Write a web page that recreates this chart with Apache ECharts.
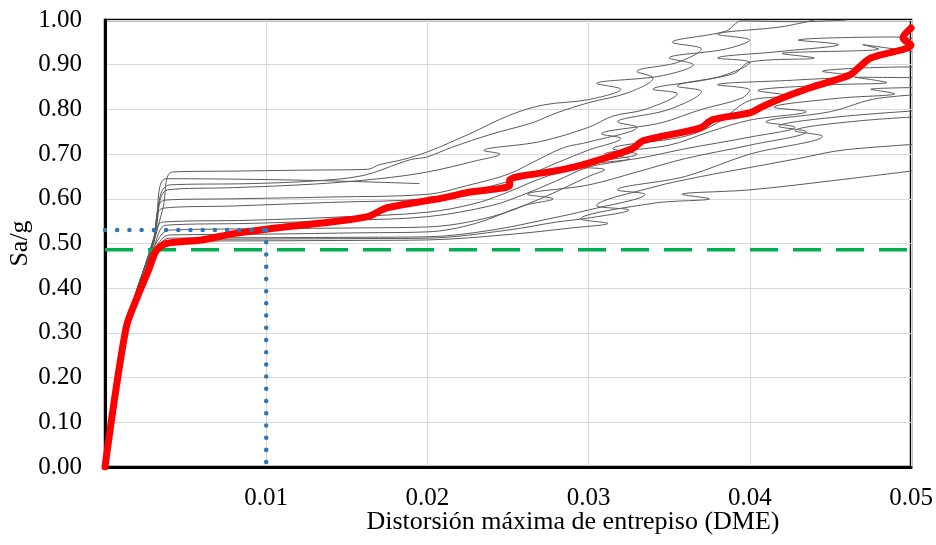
<!DOCTYPE html>
<html>
<head>
<meta charset="utf-8">
<script src="https://cdn.jsdelivr.net/npm/echarts@6/dist/echarts.min.js"></script>
<style>
  html, body { margin: 0; padding: 0; background: #fff; }
  #chart { width: 936px; height: 545px; }
</style>
</head>
<body>
<div id="chart"></div>
<script>
// Axis ticks
const xTicks = [0.01, 0.02, 0.03, 0.04, 0.05];
const yTicks = [0.0, 0.1, 0.2, 0.3, 0.4, 0.5, 0.6, 0.7, 0.8, 0.9, 1.0];

// Incremental dynamic analysis curves: [drift, Sa/g]
const ida1 = [[0,0],[0.0011,0.27],[0.0017,0.36],[0.0024,0.44],[0.0030,0.50],[0.0036,0.58],[0.0042,0.66],[0.0080,0.662],[0.0120,0.664],[0.0163,0.666],[0.0170,0.676],[0.0185,0.688],[0.0200,0.705],[0.0226,0.745],[0.0251,0.787],[0.0272,0.810],[0.0300,0.822],[0.0320,0.845],[0.0305,0.858],[0.0345,0.875],[0.0365,0.900],[0.0350,0.915],[0.0385,0.935],[0.0400,0.955],[0.0380,0.968],[0.0420,0.985],[0.0440,1.0]];
const ida2 = [[0,0],[0.0011,0.27],[0.0017,0.36],[0.0024,0.44],[0.0031,0.52],[0.0038,0.645],[0.0080,0.644],[0.0130,0.641],[0.0170,0.637],[0.0195,0.634]];
const ida3 = [[0,0],[0.0010,0.26],[0.0016,0.35],[0.0023,0.43],[0.0030,0.51],[0.0040,0.631],[0.0090,0.634],[0.0130,0.640],[0.0160,0.652],[0.0183,0.680],[0.0190,0.688],[0.0200,0.694],[0.0215,0.715],[0.0240,0.745],[0.0265,0.770],[0.0280,0.792],[0.0300,0.815],[0.0325,0.838],[0.0340,0.870],[0.0330,0.885],[0.0355,0.905],[0.0370,0.935],[0.0352,0.950],[0.0385,0.975],[0.0395,0.998],[0.0430,0.996],[0.0460,1.0]];
const ida4 = [[0,0],[0.0011,0.27],[0.0017,0.36],[0.0024,0.44],[0.0031,0.52],[0.0039,0.62],[0.0080,0.625],[0.0130,0.633],[0.0170,0.645],[0.0200,0.660],[0.0230,0.685],[0.0245,0.700],[0.0235,0.708],[0.0270,0.728],[0.0300,0.760],[0.0315,0.785],[0.0335,0.800],[0.0355,0.835],[0.0340,0.845],[0.0380,0.872],[0.0400,0.905],[0.0380,0.915],[0.0420,0.930],[0.0455,0.945],[0.0430,0.955],[0.0490,0.962],[0.0530,0.935]];
const ida5 = [[0,0],[0.0010,0.26],[0.0016,0.35],[0.0023,0.43],[0.0030,0.50],[0.0037,0.597],[0.0080,0.600],[0.0140,0.604],[0.0200,0.610],[0.0225,0.630],[0.0250,0.655],[0.0270,0.690],[0.0285,0.715],[0.0300,0.727],[0.0330,0.760],[0.0318,0.772],[0.0350,0.800],[0.0370,0.840],[0.0355,0.852],[0.0390,0.880],[0.0400,0.906],[0.0440,0.915],[0.0420,0.925],[0.0480,0.935],[0.0470,0.945],[0.0540,0.910]];
const ida6 = [[0,0],[0.0011,0.27],[0.0017,0.36],[0.0024,0.44],[0.0030,0.50],[0.0036,0.579],[0.0080,0.584],[0.0140,0.592],[0.0200,0.600],[0.0230,0.620],[0.0260,0.650],[0.0280,0.680],[0.0300,0.709],[0.0320,0.735],[0.0308,0.745],[0.0345,0.770],[0.0370,0.800],[0.0395,0.825],[0.0400,0.843],[0.0380,0.855],[0.0430,0.866],[0.0465,0.875],[0.0445,0.885],[0.0500,0.895],[0.0540,0.880]];
const ida7 = [[0,0],[0.0010,0.26],[0.0016,0.35],[0.0023,0.43],[0.0029,0.49],[0.0036,0.548],[0.0090,0.552],[0.0150,0.560],[0.0200,0.570],[0.0230,0.590],[0.0250,0.615],[0.0270,0.645],[0.0300,0.680],[0.0330,0.700],[0.0315,0.712],[0.0360,0.740],[0.0380,0.770],[0.0400,0.820],[0.0425,0.830],[0.0405,0.842],[0.0450,0.855],[0.0485,0.860],[0.0465,0.872],[0.0540,0.870]];
const ida8 = [[0,0],[0.0011,0.27],[0.0017,0.36],[0.0024,0.44],[0.0030,0.49],[0.0038,0.541],[0.0090,0.545],[0.0150,0.552],[0.0200,0.560],[0.0240,0.585],[0.0260,0.610],[0.0280,0.640],[0.0300,0.671],[0.0325,0.690],[0.0310,0.700],[0.0350,0.720],[0.0375,0.750],[0.0400,0.776],[0.0435,0.795],[0.0415,0.805],[0.0455,0.825],[0.0490,0.835],[0.0475,0.845],[0.0540,0.850]];
const ida9 = [[0,0],[0.0010,0.26],[0.0016,0.35],[0.0023,0.43],[0.0030,0.49],[0.0040,0.530],[0.0100,0.533],[0.0160,0.535],[0.0200,0.537],[0.0240,0.560],[0.0270,0.600],[0.0300,0.650],[0.0310,0.665],[0.0290,0.672],[0.0330,0.690],[0.0360,0.712],[0.0400,0.738],[0.0428,0.760],[0.0410,0.772],[0.0450,0.795],[0.0480,0.825],[0.0540,0.840]];
const ida10 = [[0,0],[0.0011,0.27],[0.0017,0.36],[0.0024,0.44],[0.0031,0.49],[0.0040,0.519],[0.0100,0.521],[0.0160,0.524],[0.0200,0.526],[0.0230,0.545],[0.0260,0.585],[0.0278,0.600],[0.0262,0.610],[0.0300,0.631],[0.0330,0.660],[0.0360,0.690],[0.0400,0.720],[0.0435,0.750],[0.0418,0.762],[0.0460,0.785],[0.0540,0.805]];
const ida11 = [[0,0],[0.0010,0.26],[0.0016,0.35],[0.0023,0.43],[0.0030,0.48],[0.0040,0.512],[0.0100,0.513],[0.0160,0.514],[0.0200,0.515],[0.0240,0.530],[0.0275,0.555],[0.0300,0.575],[0.0335,0.610],[0.0318,0.620],[0.0360,0.650],[0.0400,0.700],[0.0445,0.740],[0.0428,0.752],[0.0470,0.775],[0.0540,0.790]];
const ida12 = [[0,0],[0.0011,0.27],[0.0017,0.36],[0.0024,0.44],[0.0031,0.48],[0.0042,0.508],[0.0100,0.510],[0.0160,0.511],[0.0200,0.512],[0.0250,0.530],[0.0280,0.548],[0.0300,0.557],[0.0325,0.575],[0.0305,0.585],[0.0340,0.626],[0.0370,0.650],[0.0400,0.670],[0.0430,0.690],[0.0460,0.710],[0.0540,0.730]];
const ida13 = [[0,0],[0.0010,0.26],[0.0016,0.35],[0.0023,0.43],[0.0031,0.48],[0.0043,0.505],[0.0100,0.506],[0.0160,0.507],[0.0200,0.508],[0.0250,0.520],[0.0290,0.535],[0.0312,0.545],[0.0295,0.555],[0.0340,0.590],[0.0375,0.600],[0.0358,0.610],[0.0400,0.620],[0.0450,0.640],[0.0540,0.680]];

// Median curve
const median = [[0,0],[0.0013,0.31],[0.0020,0.38],[0.0027,0.44],[0.0030,0.47],[0.0032,0.485],[0.0038,0.500],[0.0060,0.508],[0.0080,0.522],[0.0100,0.532],[0.0140,0.548],[0.0163,0.560],[0.0170,0.572],[0.0175,0.580],[0.0200,0.596],[0.0210,0.602],[0.0225,0.614],[0.0251,0.630],[0.0251,0.642],[0.0282,0.664],[0.0300,0.680],[0.0327,0.712],[0.0334,0.730],[0.0369,0.758],[0.0377,0.777],[0.0400,0.792],[0.0406,0.803],[0.0417,0.821],[0.0437,0.848],[0.0462,0.877],[0.0468,0.895],[0.0475,0.915],[0.0500,0.944],[0.0495,0.960],[0.0500,0.982]];

// Reference levels
const designLevel = 0.486;     // horizontal dashed line
const driftLimit = 0.01;       // drift of interest
const saAtLimit = 0.53;        // Sa/g of the median at that drift

const idaCurves = [ida1, ida2, ida3, ida4, ida5, ida6, ida7, ida8, ida9, ida10, ida11, ida12, ida13];

const serif = '"Liberation Serif", "Times New Roman", serif';

const series = idaCurves.map((d, i) => ({
  name: 'ida' + (i + 1),
  type: 'line',
  data: d,
  showSymbol: false,
  symbol: 'none',
  smooth: 0.35,
  lineStyle: { color: '#5a5a5a', width: 1 },
  z: 2,
  silent: true
}));

series.push({
  name: 'design',
  type: 'line',
  data: [[0, designLevel], [0.05, designLevel]],
  showSymbol: false, symbol: 'none',
  lineStyle: { color: '#00b050', width: 3.5, type: [28, 15] },
  z: 3, silent: true
});

series.push({
  name: 'median',
  type: 'line',
  data: median,
  showSymbol: false, symbol: 'none',
  smooth: 0.3,
  lineStyle: { color: '#ff0000', width: 7, cap: 'round', join: 'round' },
  z: 4, silent: true
});

series.push({
  name: 'limitH',
  type: 'line',
  data: [[0, saAtLimit], [driftLimit, saAtLimit]],
  showSymbol: false, symbol: 'none',
  lineStyle: { color: '#2e75b6', width: 4.5, type: [0.01, 12.2], cap: 'round' },
  z: 5, silent: true
});
series.push({
  name: 'limitV',
  type: 'line',
  data: [[driftLimit, saAtLimit], [driftLimit, 0]],
  showSymbol: false, symbol: 'none',
  lineStyle: { color: '#2e75b6', width: 4.5, type: [0.01, 12.2], cap: 'round' },
  z: 5, silent: true
});

const chart = echarts.init(document.getElementById('chart'), null, { renderer: 'canvas' });
chart.setOption({
  animation: false,
  backgroundColor: '#ffffff',
  grid: {
    left: 105, right: 25, top: 20, bottom: 78,
    outerBoundsMode: 'none',
    containLabel: false,
    show: true, borderColor: '#000', borderWidth: 2.5, backgroundColor: 'transparent'
  },
  xAxis: {
    type: 'value',
    min: 0, max: 0.05, interval: 0.01,
    name: 'Distorsión máxima de entrepiso (DME)',
    nameLocation: 'middle',
    nameGap: 42,
    nameMoveOverlap: false,
    nameTextStyle: { fontFamily: serif, fontSize: 26, color: '#000', padding: [0, 0, 0, 130] },
    axisLine: { show: true, lineStyle: { color: '#000', width: 3 } },
    axisTick: { show: false },
    splitLine: { show: true, lineStyle: { color: '#d9d9d9', width: 1 } },
    axisLabel: {
      fontFamily: serif, fontSize: 25, color: '#000', margin: 19,
      formatter: v => (xTicks.some(t => Math.abs(t - v) < 1e-9) ? v.toFixed(2) : '')
    }
  },
  yAxis: {
    type: 'value',
    min: 0, max: 1, interval: 0.1,
    name: 'Sa/g',
    nameLocation: 'middle',
    nameGap: 72,
    nameMoveOverlap: false,
    nameRotate: 90,
    nameTextStyle: { fontFamily: serif, fontSize: 26, color: '#000' },
    axisLine: { show: true, lineStyle: { color: '#000', width: 3 } },
    axisTick: { show: false },
    splitLine: { show: true, lineStyle: { color: '#d9d9d9', width: 1 } },
    axisLabel: {
      fontFamily: serif, fontSize: 25, color: '#000', margin: 23,
      formatter: v => {
        const t = yTicks.find(t => Math.abs(t - v) < 1e-9);
        return t === undefined ? '' : t.toFixed(2);
      }
    }
  },
  series: series
});
</script>
</body>
</html>
